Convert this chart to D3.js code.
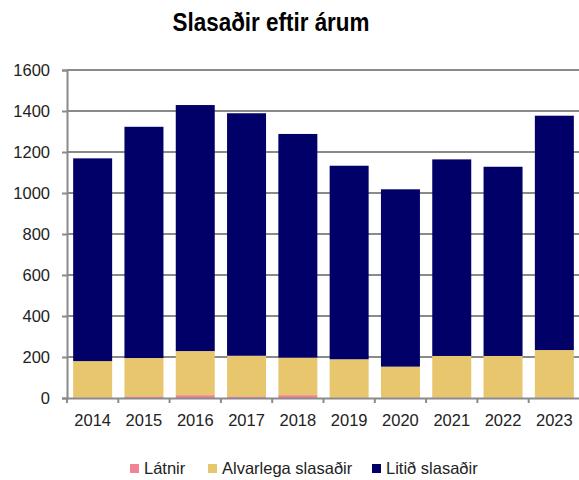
<!DOCTYPE html>
<html>
<head>
<meta charset="utf-8">
<script src="https://cdn.jsdelivr.net/npm/d3@7"></script>
<style>
  body { margin: 0; background: #fff; }
  svg { display: block; }
  text { font-family: "Liberation Sans", Arial, sans-serif; fill: #222; }
</style>
</head>
<body>
<svg width="579" height="480"></svg>
<script>
// data
var years = ["2014", "2015", "2016", "2017", "2018", "2019", "2020", "2021", "2022", "2023"];
var latnir = [2, 8, 14, 8, 14, 2, 2, 2, 2, 2];
var alvarlega = [178, 187, 215, 198, 183, 187, 151, 203, 203, 232];
var litid = [989, 1128, 1200, 1183, 1091, 944, 865, 959, 923, 1143];
var seriesNames = ["Látnir", "Alvarlega slasaðir", "Litið slasaðir"];
var seriesColors = ["#f28295", "#e8c66e", "#000068"];
var yTicks = [0, 200, 400, 600, 800, 1000, 1200, 1400, 1600];

(function() {
    var svg = d3.select("svg");
    var mLeft = 67, mRight = 580, mTop = 70, mBottom = 398;

    var rows = years.map(function(yr, i) {
        return { year: yr, "Látnir": latnir[i], "Alvarlega slasaðir": alvarlega[i], "Litið slasaðir": litid[i] };
    });
    var stack = d3.stack().keys(seriesNames)(rows);

    var x = d3.scaleBand().domain(years).range([mLeft, mRight]).paddingInner(0.24).paddingOuter(0.12);
    var y = d3.scaleLinear().domain([0, 1600]).range([mBottom, mTop]);

    // title
    svg.append("text")
        .attr("x", 271).attr("y", 31)
        .attr("text-anchor", "middle")
        .style("font-family", "'Liberation Sans Narrow', 'Arial Narrow', 'Liberation Sans', sans-serif")
        .style("font-weight", "bold")
        .style("font-size", "25px")
        .attr("textLength", 197)
        .attr("lengthAdjust", "spacingAndGlyphs")
        .style("fill", "#000")
        .text("Slasaðir eftir árum");

    // gridlines
    svg.append("g").selectAll("line")
        .data(yTicks.filter(function(d) { return d > 0; }))
        .enter().append("line")
        .attr("x1", mLeft).attr("x2", mRight)
        .attr("y1", function(d) { return y(d); })
        .attr("y2", function(d) { return y(d); })
        .attr("stroke", "#8a8a8a")
        .attr("stroke-width", 2);

    // bars
    svg.append("g").selectAll("g")
        .data(stack)
        .enter().append("g")
        .attr("fill", function(d, i) { return seriesColors[i]; })
        .selectAll("rect")
        .data(function(d) { return d; })
        .enter().append("rect")
        .attr("x", function(d) { return x(d.data.year); })
        .attr("width", x.bandwidth())
        .attr("y", function(d) { return y(d[1]); })
        .attr("height", function(d) { return y(d[0]) - y(d[1]); });

    // y axis
    var yAxis = svg.append("g").attr("transform", "translate(" + mLeft + ",0)")
        .call(d3.axisLeft(y).tickValues(yTicks).tickFormat(d3.format("d")).tickSize(5).tickPadding(12));
    yAxis.select(".domain").attr("stroke", "#8a8a8a").attr("stroke-width", 2);
    yAxis.selectAll(".tick line").attr("stroke", "#8a8a8a").attr("stroke-width", 2);
    yAxis.selectAll(".tick text").style("font-size", "16.5px").style("fill", "#222")
        .style("font-family", "'Liberation Sans', Arial, sans-serif");

    // x axis
    var xAxis = svg.append("g").attr("transform", "translate(0," + mBottom + ")")
        .call(d3.axisBottom(x).tickSize(0).tickPadding(16));
    xAxis.select(".domain").attr("stroke", "#8a8a8a").attr("stroke-width", 2);
    xAxis.selectAll(".tick text").style("font-size", "16.5px").style("fill", "#222")
        .style("font-family", "'Liberation Sans', Arial, sans-serif");
    // ticks between categories
    var bounds = years.map(function(d) { return x(d) - x.step() * x.paddingInner() / 2; });
    bounds.push(mRight);
    xAxis.selectAll("line.sep")
        .data(bounds)
        .enter().append("line")
        .attr("class", "sep")
        .attr("x1", function(d) { return d; }).attr("x2", function(d) { return d; })
        .attr("y1", 0).attr("y2", 5)
        .attr("stroke", "#8a8a8a").attr("stroke-width", 2);

    // legend
    var legendX = [130, 208, 372];
    var legend = svg.append("g").selectAll("g")
        .data(seriesNames)
        .enter().append("g")
        .attr("transform", function(d, i) { return "translate(" + legendX[i] + ",464)"; });
    legend.append("rect")
        .attr("width", 9).attr("height", 9)
        .attr("fill", function(d, i) { return seriesColors[i]; });
    legend.append("text")
        .attr("x", 14).attr("y", 10)
        .style("font-size", "16.5px")
        .style("fill", "#222")
        .text(function(d) { return d; });
})();
</script>
</body>
</html>
